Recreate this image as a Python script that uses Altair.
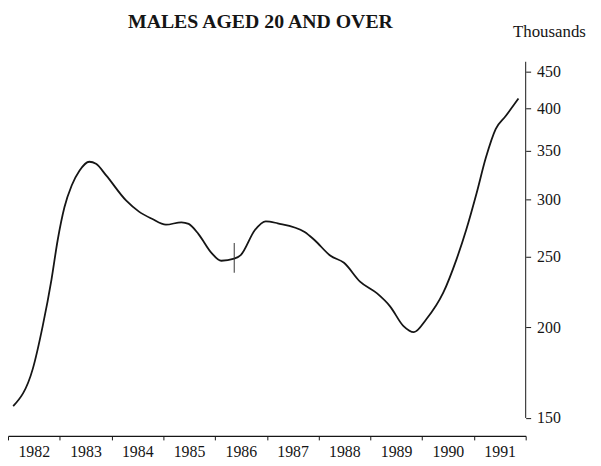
import altair as alt
import pandas as pd

# ---- data (year, thousands) ----
years = [1982.10, 1982.48, 1982.67, 1982.84, 1982.96, 1983.09, 1983.23, 1983.38,
         1983.57, 1983.70, 1983.90, 1984.28, 1984.53, 1984.78, 1985.05, 1985.35,
         1985.49, 1985.68, 1985.93, 1986.12, 1986.37, 1986.50, 1986.77, 1986.98,
         1987.21, 1987.73, 1987.92, 1988.23, 1988.49, 1988.80, 1989.13, 1989.38,
         1989.64, 1989.84, 1990.08, 1990.41, 1990.66, 1990.85, 1991.05, 1991.23,
         1991.42, 1991.61, 1991.86]
values = [155.7, 175.4, 200.7, 232.6, 263.7, 292.5, 313.4, 328.4,
          337.9, 335.7, 323.3, 298.9, 288.5, 282.0, 276.8, 278.9,
          277.5, 268.7, 253.2, 246.9, 248.5, 251.6, 272.2, 279.8,
          278.0, 270.5, 263.7, 250.8, 245.3, 231.1, 222.6, 213.7,
          200.7, 196.9, 205.1, 223.3, 247.6, 272.2, 305.6, 342.2,
          374.8, 390.3, 412.9]

marker_year = [1986.37]
marker_low = [237.7]
marker_high = [261.2]

x_ticks = list(range(1982, 1993))
y_ticks = [150, 200, 250, 300, 350, 400, 450]
y_axis_span = [150, 463.9]

title_text = ["MALES AGED 20 AND OVER"]
unit_text = ["Thousands"]

W, H = 523, 378
FONT = "Liberation Serif"
INK = "#151515"

df = pd.DataFrame({"year": years, "value": values})
mk = pd.DataFrame({"year": marker_year, "lo": marker_low, "hi": marker_high})
ax = pd.DataFrame({"lo": [y_axis_span[0]], "hi": [y_axis_span[1]]})

xscale = alt.Scale(domain=[1982, 1992], nice=False, zero=False)
yscale = alt.Scale(type="log", domain=[141.7, 463.9], nice=False, zero=False)

x_axis = alt.Axis(
    values=x_ticks, format="d",
    labelExpr="datum.value >= 1992 ? '' : datum.label",
    labelOffset=26, labelFlush=False, labelOverlap=False,
    tickSize=4, labelPadding=4, grid=False, title=None,
    domainColor=INK, tickColor=INK, labelColor=INK,
    labelFont=FONT, labelFontSize=16, domainWidth=1.2, tickWidth=1,
)
y_axis = alt.Axis(
    orient="right", values=y_ticks, domain=False, grid=False, title=None,
    tickSize=5, labelPadding=6, tickColor=INK, labelColor=INK,
    labelFont=FONT, labelFontSize=16, labelOverlap=False, labelFlush=False,
)

line = alt.Chart(df).mark_line(
    color=INK, strokeWidth=1.8, interpolate="monotone"
).encode(
    x=alt.X("year:Q", scale=xscale, axis=x_axis),
    y=alt.Y("value:Q", scale=yscale, axis=y_axis),
)

marker = alt.Chart(mk).mark_rule(color="#333333", strokeWidth=1).encode(
    x=alt.X("year:Q", scale=xscale),
    y=alt.Y("lo:Q", scale=yscale),
    y2="hi:Q",
)

yline = alt.Chart(ax).mark_rule(color=INK, strokeWidth=1).encode(
    x=alt.value(W),
    y=alt.Y("lo:Q", scale=yscale),
    y2="hi:Q",
)

title = alt.Chart(pd.DataFrame({"t": title_text})).mark_text(
    font=FONT, fontSize=20, fontWeight="bold", color=INK,
    align="center", baseline="alphabetic"
).encode(text="t:N", x=alt.value(255), y=alt.value(-34))

unit = alt.Chart(pd.DataFrame({"t": unit_text})).mark_text(
    font=FONT, fontSize=17, color=INK, align="center", baseline="alphabetic"
).encode(text="t:N", x=alt.value(547), y=alt.value(-25))

chart = alt.layer(line, marker, yline, title, unit).properties(
    width=W, height=H,
    autosize=alt.AutoSizeParams(type="none"),
    padding={"left": 0, "top": 52, "right": 68, "bottom": 24},
    background="white",
).configure_view(strokeWidth=0)

chart.save("out.html", embed_options={"renderer": "svg", "actions": False})
